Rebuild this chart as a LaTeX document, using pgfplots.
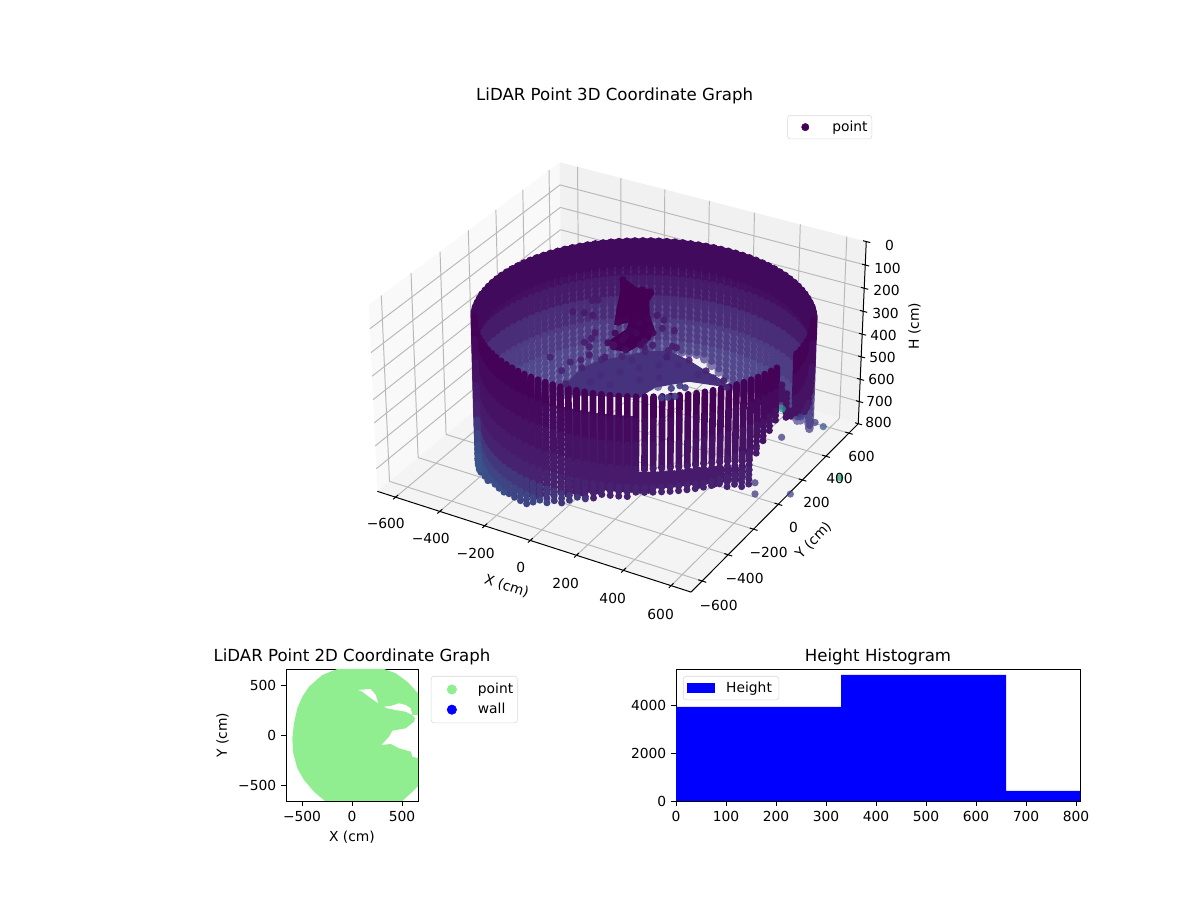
\documentclass[border=0pt]{standalone}
\usepackage{pgfplots}
\usepackage{pgfplotstable}
\usepackage{fontspec}
\setmainfont{DejaVu Sans}
\pgfplotsset{compat=1.18}
\newcommand{\ften}{\fontsize{10}{12}\selectfont}
\newcommand{\ftw}{\fontsize{12}{14}\selectfont}
% view of the 3D box (elev 30, azim -60, perspective), result in picture pixels
\newcommand{\dd}[3]{(10-(.0362*#1-.0628*#2+.0425*(400-#3))/100)}
\newcommand{\PX}[3]{(622.1+(2.269*#1+1.31*#2)/\dd{#1}{#2}{#3})}
\newcommand{\PY}[3]{(533.7+(-.655*#1+1.1344*#2+2.304*(400-#3))/\dd{#1}{#2}{#3})}
\newcommand{\Wx}{(100+.985*\thisrow{r}*cos(\thisrow{t}))}
\newcommand{\Wy}{(-10+.985*\thisrow{r}*sin(\thisrow{t}))}
\definecolor{ba}{RGB}{66,10,92}
\definecolor{ua}{RGB}{75,35,110}\definecolor{ub}{RGB}{84,52,124}\definecolor{uc}{RGB}{95,72,140}
\definecolor{ud}{RGB}{108,92,155}\definecolor{ue}{RGB}{120,108,167}\definecolor{uf}{RGB}{130,120,175}
\definecolor{da}{RGB}{68,15,96}\definecolor{db}{RGB}{70,28,106}\definecolor{dc}{RGB}{74,45,120}
\definecolor{de}{RGB}{78,60,132}\definecolor{dg}{RGB}{82,72,140}
\definecolor{fa}{RGB}{68,3,87}\definecolor{fb}{RGB}{69,10,93}\definecolor{fc}{RGB}{70,18,100}
\definecolor{fd}{RGB}{71,26,107}\definecolor{fe}{RGB}{71,34,113}\definecolor{ff}{RGB}{66,55,125}
\definecolor{fg}{RGB}{62,68,132}\definecolor{fh}{RGB}{60,78,137}\definecolor{fi}{RGB}{58,85,140}
\definecolor{vir}{RGB}{68,1,84}\definecolor{blobc}{RGB}{70,50,125}\definecolor{lgreen}{HTML}{90EE90}
\definecolor{gridc}{RGB}{185,185,185}
% one height band of wall columns: table, low col, high col, a, b, colour, opacity, style
\newcommand{\wallband}[8]{%
\addplot[forget plot,no markers,color=#6,opacity=#7,restrict x to domain=-100:1500,
 quiver={u={\PX{\Wx}{\Wy}{min(\thisrow{#3},#5)}-\PX{\Wx}{\Wy}{max(\thisrow{#2},#4)}},
         v={\PY{\Wx}{\Wy}{min(\thisrow{#3},#5)}-\PY{\Wx}{\Wy}{max(\thisrow{#2},#4)}},
         every arrow/.append style={line cap=round,#8}}]
 table[x expr={(and(\thisrow{#2}<#5,\thisrow{#3}>#4))?\PX{\Wx}{\Wy}{max(\thisrow{#2},#4)}:-5000},
       y expr={\PY{\Wx}{\Wy}{max(\thisrow{#2},#4)}}]{#1};}
\newcommand{\seg}[3]{%
\addplot[forget plot,no markers,color=#2,
 quiver={u={\PX{\thisrow{d}}{\thisrow{e}}{\thisrow{f}}-\PX{\thisrow{a}}{\thisrow{b}}{\thisrow{c}}},
         v={\PY{\thisrow{d}}{\thisrow{e}}{\thisrow{f}}-\PY{\thisrow{a}}{\thisrow{b}}{\thisrow{c}}},
         every arrow/.append style={line width=#3}}]
 table[x expr={\PX{\thisrow{a}}{\thisrow{b}}{\thisrow{c}}},y expr={\PY{\thisrow{a}}{\thisrow{b}}{\thisrow{c}}}]{#1};}
\newcommand{\poly}[2]{%
\addplot[forget plot,fill=#2,draw=none] table[x expr={\PX{\thisrow{x}}{\thisrow{y}}{\thisrow{h}}},y expr={\PY{\thisrow{x}}{\thisrow{y}}{\thisrow{h}}}]{#1} -- cycle;}
\pgfplotstableread{
x y h
-683 -683 800
-683 683 800
-683 683 0
-683 -683 0
}\paneL
\pgfplotstableread{
x y h
-683 683 800
683 683 800
683 683 0
-683 683 0
}\paneB
\pgfplotstableread{
x y h
-683 -683 800
683 -683 800
683 683 800
-683 683 800
}\paneF
\pgfplotstableread{
a b c d e f
-600 -683 800 -600 683 800
-400 -683 800 -400 683 800
-200 -683 800 -200 683 800
0 -683 800 0 683 800
200 -683 800 200 683 800
400 -683 800 400 683 800
600 -683 800 600 683 800
-600 683 800 -600 683 0
-400 683 800 -400 683 0
-200 683 800 -200 683 0
0 683 800 0 683 0
200 683 800 200 683 0
400 683 800 400 683 0
600 683 800 600 683 0
-683 -600 800 683 -600 800
-683 -400 800 683 -400 800
-683 -200 800 683 -200 800
-683 0 800 683 0 800
-683 200 800 683 200 800
-683 400 800 683 400 800
-683 600 800 683 600 800
-683 -600 800 -683 -600 0
-683 -400 800 -683 -400 0
-683 -200 800 -683 -200 0
-683 0 800 -683 0 0
-683 200 800 -683 200 0
-683 400 800 -683 400 0
-683 600 800 -683 600 0
-683 -683 100 -683 683 100
-683 -683 200 -683 683 200
-683 -683 300 -683 683 300
-683 -683 400 -683 683 400
-683 -683 500 -683 683 500
-683 -683 600 -683 683 600
-683 -683 700 -683 683 700
-683 683 100 683 683 100
-683 683 200 683 683 200
-683 683 300 683 683 300
-683 683 400 683 683 400
-683 683 500 683 683 500
-683 683 600 683 683 600
-683 683 700 683 683 700
}\gridT
\pgfplotstableread{
a b c d e f
-683 -683 800 683 -683 800
683 -683 800 683 683 800
683 683 800 683 683 0
-600 -700 800 -600 -665 800
-400 -700 800 -400 -665 800
-200 -700 800 -200 -665 800
0 -700 800 0 -665 800
200 -700 800 200 -665 800
400 -700 800 400 -665 800
600 -700 800 600 -665 800
667 -600 800 700 -600 800
667 -400 800 700 -400 800
667 -200 800 700 -200 800
667 0 800 700 0 800
667 200 800 700 200 800
667 400 800 700 400 800
667 600 800 700 600 800
669 683 0 700 683 0
669 683 100 700 683 100
669 683 200 700 683 200
669 683 300 700 683 300
669 683 400 700 683 400
669 683 500 700 683 500
669 683 600 700 683 600
669 683 700 700 683 700
669 683 800 700 683 800
}\tickT
% back half of the wall: angle, radius, top height, bottom height
\pgfplotstableread{
t r lo hi
30 647 150 640
33 647 150 640
36 647 150 640
39 646 150 640
42 645 150 650
45 644 150 700
48 643 150 720
51 642 150 720
54 641 150 720
57 639 150 720
60 638 150 720
63 636 150 720
66 634 150 720
69 632 150 720
72 630 150 720
75 628 150 720
78 626 150 740
81 624 150 760
84 622 150 738
87 620 150 714
90 618 150 695
93 617 150 673
96 615 150 650
99 614 150 636
102 613 150 636
105 612 150 636
108 611 150 640
111 610 150 660
114 609 150 800
117 609 150 800
120 609 150 800
123 609 150 800
126 609 150 800
129 610 150 800
132 611 150 800
135 612 150 800
138 613 150 800
141 614 150 800
144 615 150 800
147 617 150 800
150 619 150 800
153 620 150 800
156 622 150 800
159 624 150 800
162 626 150 800
165 628 150 800
168 630 150 800
171 632 150 800
174 634 150 800
177 636 150 800
180 638 150 800
183 639 150 800
186 641 150 800
189 642 150 800
192 643 150 800
195 645 150 800
198 645 150 800
201 646 150 800
204 647 150 800
207 647 150 800
}\wallB
% front half: angle, radius, top height, end of the solid part, last point
\pgfplotstableread{
t r lo hs hi
210 647 150 656 766
213 647 150 669 779
216 647 150 663 773
219 646 150 653 763
222 645 150 648 758
225 644 150 639 749
228 643 150 630 740
231 642 150 622 732
234 641 150 617 727
237 639 150 613 723
240 638 150 611 721
243 636 150 605 715
246 634 150 600 710
249 632 150 596 706
252 630 150 592 702
255 628 150 592 702
258 626 150 583 693
261 624 150 570 680
264 622 150 559 669
267 620 150 544 654
270 619 150 531 641
273 617 150 518 628
276 615 150 505 615
279 614 150 493 603
282 613 150 484 594
285 612 150 480 590
288 611 150 475 585
291 610 150 471 581
294 609 150 467 577
297 609 150 458 568
300 609 150 454 564
303 609 150 450 560
306 609 150 445 555
309 610 150 445 555
312 611 150 445 555
315 612 150 445 555
318 613 150 445 555
321 614 150 449 559
324 615 150 454 564
327 617 150 458 568
330 619 150 462 572
333 620 150 471 581
336 622 150 482 592
339 624 150 488 598
342 626 150 400 486
345 628 150 370 439
348 630 150 340 409
351 632 150 330 387
354 634 236 236 300
357 636 288 288 391
360 638 378 378 410
363 639 150 340 417
366 641 150 360 430
369 642 150 390 447
372 643 150 400 456
375 645 150 410 460
378 645 150 410 456
381 646 150 400 430
384 647 150 380 404
387 647 150 370 383
}\wallF
\pgfplotstableread{
t r lo hi
244.5 600 250 690
247.5 600 250 688
250.5 600 250 685
253.5 600 250 680
256.5 600 250 675
259.5 600 250 660
262.5 600 250 650
265.5 600 250 635
268.5 600 250 620
271.5 600 250 610
274.5 600 250 600
277.5 600 250 590
280.5 600 250 580
283.5 600 250 570
286.5 600 250 560
289.5 600 250 560
292.5 600 250 555
295.5 600 250 550
298.5 605 480 548
301.5 605 480 545
304.5 605 480 540
307.5 605 480 540
310.5 605 480 540
313.5 605 480 540
316.5 605 480 540
319.5 605 480 545
322.5 605 490 550
325.5 605 490 555
328.5 605 500 560
331.5 605 510 565
334.5 605 520 575
337.5 605 520 580
}\wallG
\pgfplotstableread{
x y h
-253 2 550
-262 139 550
-228 233 550
-171 296 550
-111 375 550
-36 427 550
72 401 550
170 361 550
266 328 550
300 290 550
152 254 550
60 148 550
48 52 550
-211 -71 550
}\blob
\pgfplotstableread{
x y h
-264 441 300
-230 443 300
-176 412 300
-129 421 300
-90 409 300
-73 339 300
-16 240 300
58 151 300
80 75 300
66 23 300
53 -46 300
-7 -63 300
-52 -1 300
-40 100 300
-57 150 300
-97 106 300
-163 243 300
-210 348 300
}\clus
\pgfplotstableread{
x y h c
-253 2 550 .1
-262 139 550 .1
-228 233 550 .1
-171 296 550 .1
-111 375 550 .1
-36 427 550 .1
72 401 550 .1
170 361 550 .1
266 328 550 .1
300 290 550 .1
-172 128 550 .12
-117 186 550 .12
-67 251 550 .12
-12 309 550 .12
54 347 550 .12
158 319 550 .12
-21 171 550 .12
-101 81 550 .12
-178 63 550 .12
38 223 550 .12
220 328 550 .12
-123 289 550 .12
-364 393 400 .07
-345 406 400 .07
-383 275 400 .07
-340 291 400 .07
-300 288 400 .07
-222 174 400 .08
-219 88 400 .08
-211 128 400 .08
-184 67 400 .08
-274 -77 400 .1
-183 -144 400 .1
-188 -71 400 .1
-161 -37 400 .1
-152 12 400 .08
-92 28 400 .08
-111 124 400 .08
-81 414 400 .07
-12 335 400 .08
-39 395 400 .08
37 342 400 .08
91 231 400 .08
110 229 400 .08
21 200 400 .08
-1 173 400 .08
113 147 400 .08
-251 440 300 .0
-214 408 300 .0
-178 385 300 .0
-142 406 300 .0
-107 407 300 .0
-172 313 300 .0
-138 346 300 .0
-94 346 300 .0
-139 225 300 .0
-113 272 300 .0
-50 247 300 .0
-93 134 300 .01
-77 170 300 .01
-25 173 300 .01
38 148 300 .01
-62 54 300 .02
-17 54 300 .02
7 95 300 .02
63 127 300 .02
-16 -39 300 .03
37 -38 300 .03
65 58 300 .03
-48 -25 300 .03
-25 103 300 .01
-87 287 300 .0
-141 282 300 .0
-60 188 300 .0
-12 22 300 .02
-10 216 300 .01
66 23 300 .03
118 176 550 .18
137 210 550 .18
162 207 550 .18
120 94 550 .18
141 110 550 .18
160 130 550 .18
}\inner
\pgfplotstableread{
x y h c
409 558 750 .5
506 365 750 .17
610 518 750 .27
834 214 750 .62
725 15 750 .2
609 -51 750 .16
500 539 750 .2
568 530 750 .17
572 19 750 .15
}\outl
\newcommand{\lab}[3]{\node[font=\ften,inner sep=0pt] at ({#1*0.01in},{(900-#2)*0.01in}) {#3};}
\begin{document}
\begin{tikzpicture}
\path[use as bounding box] (0,0) rectangle (12in,9in);
\begin{axis}[at={(0,0)},anchor=south west,scale only axis,width=12in,height=9in,
  xmin=0,xmax=1200,ymin=0,ymax=900,hide axis,clip=false,
  colormap/viridis,point meta min=0,point meta max=1,legend cell align=left,
  legend style={at={(.7267,.8722)},anchor=north east,draw=black!15,rounded corners=2pt,font=\ften,
    inner xsep=1pt,inner ysep=2pt}]
\poly{\paneL}{black!2.5}
\poly{\paneB}{black!5.5}
\poly{\paneF}{black!4.5}
\seg{\gridT}{gridc}{0.7pt}
\seg{\tickT}{black}{0.72pt}
\wallband{\wallB}{lo}{hi}{250}{350}{ua}{1}{line width=6.1pt}
\wallband{\wallB}{lo}{hi}{350}{430}{ub}{1}{line width=6.1pt}
\wallband{\wallB}{lo}{hi}{430}{510}{uc}{1}{line width=6.1pt}
\wallband{\wallB}{lo}{hi}{510}{590}{ud}{1}{line width=6.1pt}
\wallband{\wallB}{lo}{hi}{590}{670}{ue}{1}{line width=6.1pt}
\wallband{\wallB}{lo}{hi}{670}{810}{uf}{1}{line width=6.1pt}
\wallband{\wallB}{lo}{hi}{250}{310}{da}{1}{line width=5.4pt,dash pattern=on 0pt off 3.6pt}
\wallband{\wallB}{lo}{hi}{310}{400}{db}{1}{line width=5.3pt,dash pattern=on 0pt off 3.8pt}
\wallband{\wallB}{lo}{hi}{400}{500}{dc}{1}{line width=5.2pt,dash pattern=on 0pt off 4pt}
\wallband{\wallB}{lo}{hi}{500}{600}{de}{1}{line width=5pt,dash pattern=on 0pt off 4.2pt}
\wallband{\wallB}{lo}{hi}{600}{810}{dg}{1}{line width=5pt,dash pattern=on 0pt off 4.2pt}
\wallband{\wallB}{lo}{hi}{0}{250}{ba}{1}{line width=6.3pt}
\addplot[forget plot,no markers,color=ba,line width=5.2pt,line join=round]
  table[x expr={\PX{\Wx}{\Wy}{152}},y expr={\PY{\Wx}{\Wy}{152}}]{\wallB};
\poly{\blob}{blobc}
\poly{\clus}{vir}
\addplot[forget plot,scatter,only marks,scatter src=explicit,mark=*,mark size=2.64pt,
  mark options={draw opacity=0,fill opacity=.92}]
  table[x expr={\PX{\thisrow{x}}{\thisrow{y}}{\thisrow{h}}},y expr={\PY{\thisrow{x}}{\thisrow{y}}{\thisrow{h}}},meta=c]{\inner};
\wallband{\wallG}{lo}{hi}{0}{810}{fd}{1}{line width=5.28pt,dash pattern=on 0pt off 3.6pt}
\wallband{\wallF}{lo}{hs}{0}{250}{fa}{1}{line width=4.8pt}
\wallband{\wallF}{lo}{hs}{250}{350}{fb}{1}{line width=4.8pt}
\wallband{\wallF}{lo}{hs}{350}{450}{fc}{1}{line width=4.8pt}
\wallband{\wallF}{lo}{hs}{450}{530}{fd}{1}{line width=4.8pt}
\wallband{\wallF}{lo}{hs}{530}{600}{fe}{1}{line width=4.8pt}
\wallband{\wallF}{lo}{hs}{600}{660}{ff}{1}{line width=4.8pt}
\wallband{\wallF}{lo}{hs}{660}{710}{fg}{1}{line width=4.8pt}
\wallband{\wallF}{hs}{hi}{0}{450}{fc}{1}{line width=5.1pt,dash pattern=on 0pt off 3.4pt}
\wallband{\wallF}{hs}{hi}{450}{530}{fd}{1}{line width=5.1pt,dash pattern=on 0pt off 3.4pt}
\wallband{\wallF}{hs}{hi}{530}{600}{fe}{1}{line width=5.1pt,dash pattern=on 0pt off 3.4pt}
\wallband{\wallF}{hs}{hi}{600}{660}{ff}{1}{line width=5.1pt,dash pattern=on 0pt off 3.4pt}
\wallband{\wallF}{hs}{hi}{660}{710}{fg}{1}{line width=5.1pt,dash pattern=on 0pt off 3.4pt}
\wallband{\wallF}{hs}{hi}{710}{760}{fh}{1}{line width=5.1pt,dash pattern=on 0pt off 3.4pt}
\wallband{\wallF}{hs}{hi}{760}{810}{fi}{1}{line width=5.1pt,dash pattern=on 0pt off 3.4pt}
\addplot[forget plot,scatter,only marks,scatter src=explicit,mark=*,mark size=2.64pt,
  mark options={draw opacity=0,fill opacity=.75}]
  table[x expr={\PX{\thisrow{x}}{\thisrow{y}}{\thisrow{h}}},y expr={\PY{\thisrow{x}}{\thisrow{y}}{\thisrow{h}}},meta=c]{\outl};
\addlegendimage{legend image code/.code={\path (0,-0.05in) (0.40in,0.05in);\fill[vir] (0.16in,0) circle (2.64pt);}}
\addlegendentry{point}
\end{axis}
\node[font=\ftw,inner sep=0pt] at ({615*0.01in},{(900-95)*0.01in}) {LiDAR Point 3D Coordinate Graph};
\lab{386}{523}{−600}\lab{431}{538}{−400}\lab{476}{553}{−200}\lab{521}{567}{0}\lab{566}{583}{200}\lab{613}{598}{400}\lab{661}{614}{600}
\lab{719}{605}{−600}\lab{745}{578}{−400}\lab{769}{552}{−200}\lab{794}{527}{0}\lab{817}{502}{200}\lab{840}{478}{400}\lab{862}{456}{600}
\lab{890}{245}{0}\lab{888}{268}{100}\lab{887}{290}{200}\lab{886}{313}{300}\lab{884}{335}{400}\lab{883}{357}{500}\lab{882}{379}{600}\lab{880}{401}{700}\lab{879}{422}{800}
\node[font=\ften,inner sep=0pt,rotate=-18] at ({507*0.01in},{(900-586)*0.01in}) {X (cm)};
\node[font=\ften,inner sep=0pt,rotate=46] at ({814*0.01in},{(900-540)*0.01in}) {Y (cm)};
\node[font=\ften,inner sep=0pt,rotate=90] at ({915*0.01in},{(900-326)*0.01in}) {H (cm)};
\begin{axis}[at={(2.86in,0.99in)},anchor=south west,scale only axis,width=1.32in,height=1.32in,
  xmin=-660,xmax=660,ymin=-660,ymax=660,
  xtick={-500,0,500},xticklabels={−500,0,500},ytick={-500,0,500},yticklabels={−500,0,500},
  xtick pos=bottom,ytick pos=left,tick align=outside,major tick length=3.5bp,
  every tick/.style={black,line width=.6pt},axis line style={line width=.6pt},
  tick label style={font=\ften},label style={font=\ften},
  xlabel={X (cm)},ylabel={Y (cm)},title={LiDAR Point 2D Coordinate Graph},title style={font=\ftw,yshift=-6.5pt},
  legend cell align=left,
  legend style={at={(1.098,.947)},anchor=north west,draw=black!15,rounded corners=2pt,font=\ften,inner xsep=1pt,inner ysep=3pt,row sep=1.5pt}]
\addplot[forget plot,fill=lgreen,draw=none] coordinates {(-147,660)(-297,600)(-430,483)(-497,383)(-547,267)(-580,117)(-597,-33)(-587,-183)(-547,-333)(-480,-450)(-380,-567)(-270,-660)(503,-660)(587,-583)(660,-510)(660,-233)(603,-217)(590,-167)(470,-133)(387,-90)(293,-100)(370,-17)(403,43)(537,67)(620,133)(630,167)(603,200)(660,200)(660,417)(553,533)(437,617)(320,660)} -- cycle;
\addplot[forget plot,fill=white,draw=none] coordinates {(63,450)(187,460)(237,400)(263,317)(170,383)(103,433)} -- cycle;
\addplot[forget plot,fill=white,draw=none] coordinates {(320,283)(387,290)(470,317)(537,300)(587,267)(603,200)(537,233)(437,250)(353,267)} -- cycle;
\addlegendimage{legend image code/.code={\path (0,-0.05in) (0.42in,0.05in);\fill[lgreen] (0.19in,0) circle (3.4pt);}}
\addlegendentry{point}
\addlegendimage{legend image code/.code={\path (0,-0.05in) (0.42in,0.05in);\fill[blue] (0.19in,0) circle (3.4pt);}}
\addlegendentry{wall}
\end{axis}
\begin{axis}[at={(6.76in,0.99in)},anchor=south west,scale only axis,width=4.04in,height=1.32in,
  xmin=0,xmax=808,ymin=0,ymax=5500,
  xtick={0,100,...,800},ytick={0,2000,4000},
  /pgf/number format/assume math mode=true,/pgf/number format/1000 sep={},scaled y ticks=false,
  xtick pos=bottom,ytick pos=left,tick align=outside,major tick length=3.5bp,
  every tick/.style={black,line width=.6pt},axis line style={line width=.6pt},
  tick label style={font=\ften},title={Height Histogram},title style={font=\ftw,yshift=-6.5pt},
  legend style={at={(.0173,.947)},anchor=north west,draw=black!15,rounded corners=2pt,font=\ften,inner xsep=3pt,inner ysep=2pt}]
\addplot[ybar interval,fill=blue,draw=none,legend image code/.code={\path (0,0) (0.36in,0);\fill[blue,sharp corners] (0,-0.05in) rectangle (0.28in,0.05in);}] coordinates {(0,3917)(330,5250)(660,417)(808,417)};
\addlegendentry{Height}
\end{axis}
\end{tikzpicture}
\end{document}
